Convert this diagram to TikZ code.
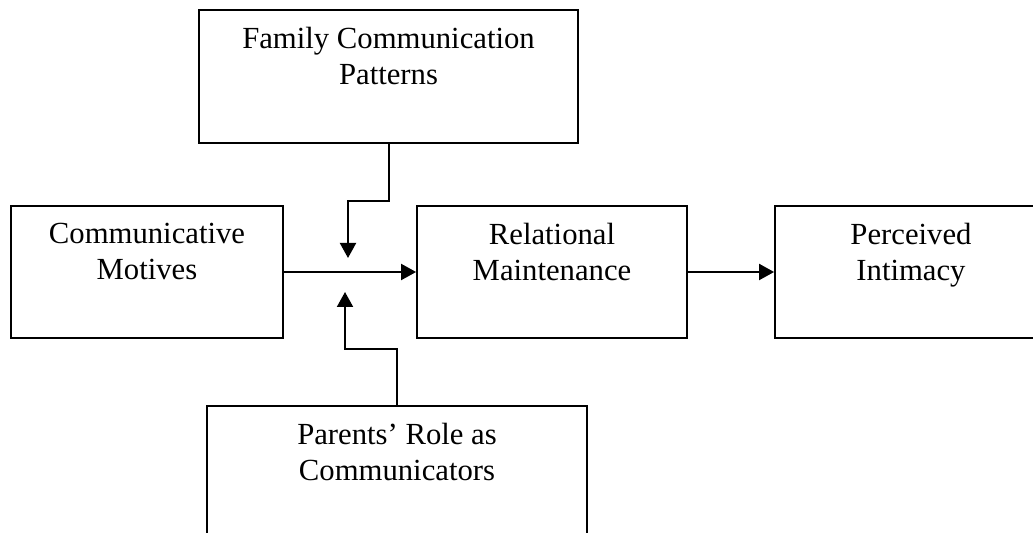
\documentclass[tikz,border=0pt]{standalone}
\usepackage{fontspec}
\setmainfont{Liberation Serif}
\usetikzlibrary{positioning,arrows.meta}

\tikzset{
  box/.style={draw, line width=0.9pt, inner sep=0pt},
  boxtext/.style={align=center, inner sep=0pt, font=\fontsize{15.35}{18}\selectfont},
  flow/.style={line width=1pt, -{Triangle[length=7.5pt,width=8pt]}}
}

\begin{document}
\begin{tikzpicture}[x=0.5pt, y=-0.5pt]
\clip (0,0) rectangle (1033,533);
\fill[white] (0,0) rectangle (1033,533);

% boxes
\node[box, minimum width=189.5pt, minimum height=66.5pt] (fcp) at (388.5,76.5) {};
\node[box, minimum width=136pt, minimum height=66pt] (motives) at (147,272) {};
\node[box, minimum width=135pt, minimum height=66pt] (relational) at (552,272) {};
\node[box, minimum width=136pt, minimum height=66pt] (intimacy) at (911,272) {};
\node[box, minimum width=190pt, minimum height=66pt] (parents) at (397,472) {};

% texts
\node[boxtext, below=9pt of fcp.north] (fcptext) {Family Communication\\Patterns};
\node[boxtext, below=9pt of motives.north] (motivestext) {Communicative\\Motives};
\node[boxtext, below=9pt of relational.north] (relationaltext) {Relational\\Maintenance};
\node[boxtext, below=9pt of intimacy.north] (intimacytext) {Perceived\\Intimacy};
\node[boxtext, below=9pt of parents.north] (parentstext) {Parents’ Role as\\Communicators};

% moderators
\coordinate (topbend) at (348,201);
\coordinate (toptip) at (348,258);
\coordinate (lowbend) at (345,349);
\coordinate (lowtip) at (345,292);

\draw[flow] (fcp.south) -- (fcp.south |- topbend) -- (topbend) -- (toptip);
\draw[flow] (parents.north) -- (parents.north |- lowbend) -- (lowbend) -- (lowtip);

% main path
\draw[flow] (motives) -- (relational);
\draw[flow] (relational) -- (intimacy);

\end{tikzpicture}
\end{document}
